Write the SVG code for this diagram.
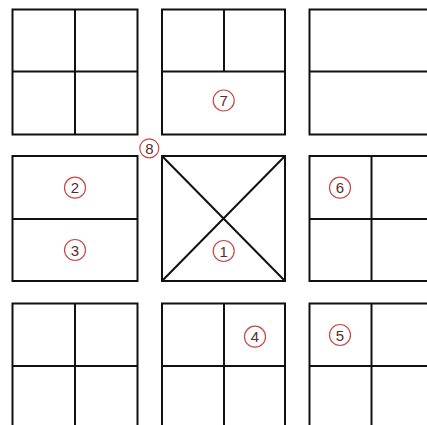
<svg xmlns="http://www.w3.org/2000/svg" width="427" height="425" viewBox="0 0 427 425">
<style>
.b{fill:none;stroke:#111;stroke-width:2}
.c{fill:none;stroke:#c84848;stroke-width:1.2}
.t{font-family:"Liberation Sans",Arial,sans-serif;font-size:15px;fill:#5a2a2a;text-anchor:middle;dominant-baseline:central}
</style>
<rect width="427" height="425" fill="#fff"/>
<g id="box-top-left">
<rect class="b" x="12.5" y="9.5" width="125" height="125"/>
<line class="b" x1="75" y1="9.5" x2="75" y2="134.5"/>
<line class="b" x1="12.5" y1="71.5" x2="137.5" y2="71.5"/>
</g>
<g id="box-top-middle">
<rect class="b" x="162" y="9.5" width="123" height="125"/>
<line class="b" x1="224" y1="9.5" x2="224" y2="71.5"/>
<line class="b" x1="162" y1="71.5" x2="285" y2="71.5"/>
</g>
<g id="box-top-right">
<rect class="b" x="309.5" y="9.5" width="130" height="125"/>
<line class="b" x1="309.5" y1="71.5" x2="439.5" y2="71.5"/>
</g>
<g id="box-mid-left">
<rect class="b" x="12.5" y="156" width="125" height="125"/>
<line class="b" x1="12.5" y1="219" x2="137.5" y2="219"/>
</g>
<g id="box-center">
<rect class="b" x="162" y="156" width="123" height="125"/>
<line class="b" x1="162" y1="156" x2="285" y2="281"/>
<line class="b" x1="285" y1="156" x2="162" y2="281"/>
</g>
<g id="box-mid-right">
<rect class="b" x="309.5" y="156" width="130" height="125"/>
<line class="b" x1="371.5" y1="156" x2="371.5" y2="281"/>
<line class="b" x1="309.5" y1="219" x2="439.5" y2="219"/>
</g>
<g id="box-bottom-left">
<rect class="b" x="12.5" y="303.5" width="125" height="130"/>
<line class="b" x1="75" y1="303.5" x2="75" y2="433.5"/>
<line class="b" x1="12.5" y1="366" x2="137.5" y2="366"/>
</g>
<g id="box-bottom-middle">
<rect class="b" x="162" y="303.5" width="123" height="130"/>
<line class="b" x1="224" y1="303.5" x2="224" y2="433.5"/>
<line class="b" x1="162" y1="366" x2="285" y2="366"/>
</g>
<g id="box-bottom-right">
<rect class="b" x="309.5" y="303.5" width="130" height="130"/>
<line class="b" x1="371.5" y1="303.5" x2="371.5" y2="433.5"/>
<line class="b" x1="309.5" y1="366" x2="439.5" y2="366"/>
</g>
<g id="label-1"><circle class="c" cx="223.7" cy="251" r="10.5"/><text class="t" x="223.7" y="251">1</text></g>
<g id="label-2"><circle class="c" cx="75" cy="187.7" r="10.5"/><text class="t" x="75" y="187.7">2</text></g>
<g id="label-3"><circle class="c" cx="75" cy="250" r="10.5"/><text class="t" x="75" y="250">3</text></g>
<g id="label-4"><circle class="c" cx="255" cy="336.7" r="10.5"/><text class="t" x="255" y="336.7">4</text></g>
<g id="label-5"><circle class="c" cx="340" cy="335" r="10.5"/><text class="t" x="340" y="335">5</text></g>
<g id="label-6"><circle class="c" cx="340" cy="187.7" r="10.5"/><text class="t" x="340" y="187.7">6</text></g>
<g id="label-7"><circle class="c" cx="223.7" cy="100.5" r="10.5"/><text class="t" x="223.7" y="100.5">7</text></g>
<g id="label-8"><circle class="c" cx="149.3" cy="148.3" r="9.5"/><text class="t" x="149.3" y="148.3">8</text></g>
<g id="connectors"></g>
</svg>
